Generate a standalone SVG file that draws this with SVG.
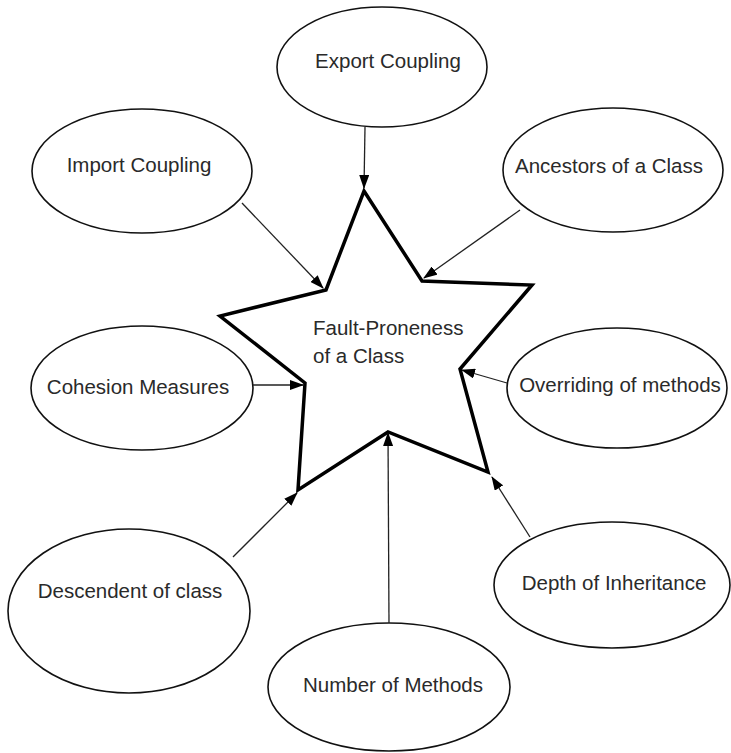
<svg xmlns="http://www.w3.org/2000/svg" width="731" height="753" viewBox="0 0 731 753">
<style>
.node ellipse{fill:#fff;stroke:#111;stroke-width:1.6}
text{font-family:"Liberation Sans",Arial,sans-serif;font-size:20.5px;fill:#2a2a2a}
.c{text-anchor:middle}
.conn line{stroke:#222;stroke-width:1.3;marker-end:url(#ah)}
</style>
<defs>
<marker id="ah" markerUnits="userSpaceOnUse" markerWidth="14" markerHeight="10" refX="13" refY="5" orient="auto">
<path d="M0,0 L14,5 L0,10 Z" fill="#000"/>
</marker>
</defs>
<rect width="731" height="753" fill="#fff"/>
<g id="export-coupling" class="node"><ellipse cx="382" cy="67" rx="105" ry="60"/><text class="c" x="388" y="68">Export Coupling</text></g>
<g id="import-coupling" class="node"><ellipse cx="142" cy="171" rx="110" ry="62"/><text class="c" x="139" y="172">Import Coupling</text></g>
<g id="ancestors" class="node"><ellipse cx="613" cy="170" rx="110" ry="62"/><text class="c" x="609" y="173">Ancestors of a Class</text></g>
<g id="cohesion" class="node"><ellipse cx="142" cy="388" rx="111" ry="62"/><text class="c" x="138" y="394">Cohesion Measures</text></g>
<g id="overriding" class="node"><ellipse cx="617" cy="388" rx="110" ry="60"/><text class="c" x="620" y="392">Overriding of methods</text></g>
<g id="descendent" class="node"><ellipse cx="129" cy="611" rx="121" ry="82"/><text class="c" x="130" y="598">Descendent of class</text></g>
<g id="depth" class="node"><ellipse cx="612" cy="585" rx="118" ry="63"/><text class="c" x="614" y="590">Depth of Inheritance</text></g>
<g id="number-methods" class="node"><ellipse cx="389" cy="687" rx="121" ry="64"/><text class="c" x="393" y="692">Number of Methods</text></g>
<g id="fault-proneness" class="node">
<polygon points="364,191 422,281 532,285 460,369 488,472 388,432 298,490 305,383 220,316 326,290" fill="#fff" stroke="#000" stroke-width="3.5" stroke-linejoin="miter"/>
<text x="313" y="335">Fault-Proneness</text>
<text x="313" y="363">of a Class</text>
</g>
<g id="connectors" class="conn">
<line x1="365" y1="127" x2="364" y2="188"/>
<line x1="242" y1="203" x2="323" y2="288"/>
<line x1="520" y1="210" x2="424" y2="278"/>
<line x1="253" y1="385" x2="303" y2="385"/>
<line x1="507" y1="383" x2="462" y2="370"/>
<line x1="233" y1="557" x2="297" y2="493"/>
<line x1="389" y1="623" x2="388" y2="433"/>
<line x1="530" y1="537" x2="492" y2="477"/>
</g>
</svg>
